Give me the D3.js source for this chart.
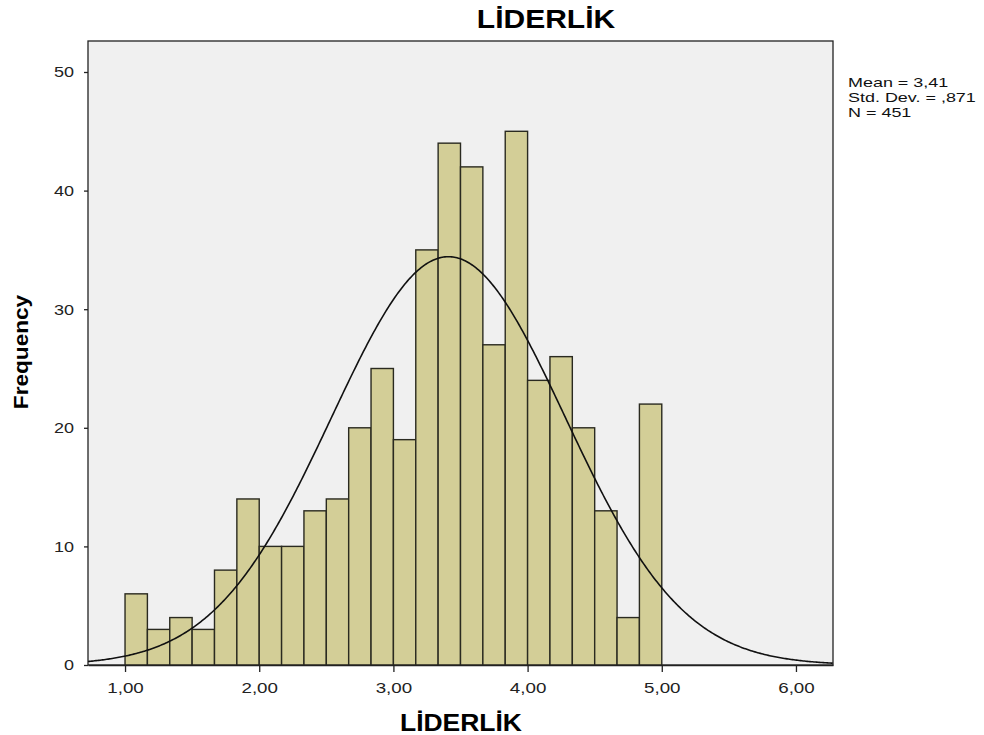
<!DOCTYPE html>
<html>
<head>
<meta charset="utf-8">
<script src="https://cdn.jsdelivr.net/npm/d3@7"></script>
<style>
  body { margin: 0; background: #fff; }
  text { font-family: "Liberation Sans", Arial, sans-serif; }
</style>
</head>
<body>
<div id="chart"></div>
<script>
// histogram bins: 24 bins of width 1/6 from 1.00 to 5.00
const binStart = 1;
const binWidth = 1 / 6;
const counts = [6, 3, 4, 3, 8, 14, 10, 10, 13, 14, 20, 25, 19, 35, 44, 42, 27, 45, 24, 26, 20, 13, 4, 22];
const xTicks = [1, 2, 3, 4, 5, 6];
const yTicks = [0, 10, 20, 30, 40, 50];
const statLines = ["Mean = 3,41", "Std. Dev. = ,871", "N = 451"];
const mean = 3.41, sd = 0.871, n = 451;

const width = 984, height = 735;
const margin = { left: 88, right: 151, top: 41, bottom: 70 };

// the reference text is a bit wider than the font, so stretch it sideways
function stretch(sel, factor) {
    sel.each(function() {
        const len = this.getComputedTextLength();
        d3.select(this).attr('textLength', len * factor).attr('lengthAdjust', 'spacingAndGlyphs');
    });
}

const svg = d3.select('#chart').append('svg')
    .attr('width', width)
    .attr('height', height);

const x = d3.scaleLinear()
    .domain([0.724, 6.276])
    .range([margin.left, width - margin.right]);

const y = d3.scaleLinear()
    .domain([0, 50])
    .range([height - margin.bottom, 72]);

const plotTop = margin.top, plotBottom = height - margin.bottom;

// plot background
svg.append('rect')
    .attr('x', margin.left)
    .attr('y', plotTop)
    .attr('width', width - margin.right - margin.left)
    .attr('height', plotBottom - plotTop)
    .attr('fill', '#f0f0f0')
    .attr('stroke', '#222')
    .attr('stroke-width', 1.3);

// bars
const bins = counts.map((c, i) => ({ x0: binStart + i * binWidth, x1: binStart + (i + 1) * binWidth, count: c }));
svg.selectAll('rect.bar')
    .data(bins)
    .enter()
    .append('rect')
    .attr('class', 'bar')
    .attr('x', d => x(d.x0))
    .attr('y', d => y(d.count))
    .attr('width', d => x(d.x1) - x(d.x0))
    .attr('height', d => y(0) - y(d.count))
    .attr('fill', '#d3ce97')
    .attr('stroke', '#2a2a20')
    .attr('stroke-width', 1.4);

// normal curve
const xs = d3.range(0.724, 6.2761, 0.01);
const pdf = v => n * binWidth * Math.exp(-0.5 * ((v - mean) / sd) ** 2) / (sd * Math.sqrt(2 * Math.PI));
svg.append('path')
    .datum(xs)
    .attr('d', d3.line().x(d => x(d)).y(d => y(pdf(d))))
    .attr('fill', 'none')
    .attr('stroke', '#111')
    .attr('stroke-width', 1.6);

// axes
const xAxis = svg.append('g')
    .attr('transform', `translate(0,${plotBottom})`)
    .call(d3.axisBottom(x).tickValues(xTicks).tickSize(7).tickSizeOuter(0)
        .tickFormat(d => d3.format('.2f')(d).replace('.', ',')));
xAxis.select('.domain').attr('stroke', '#222').attr('stroke-width', 1.3);
xAxis.selectAll('line').attr('stroke', '#222').attr('stroke-width', 1.3);
xAxis.selectAll('text').attr('font-size', 15).attr('fill', '#222')
    .attr('y', 28).attr('dy', 0).call(stretch, 1.25);

const yAxis = svg.append('g')
    .attr('transform', `translate(${margin.left},0)`)
    .call(d3.axisLeft(y).tickValues(yTicks).tickSize(4).tickFormat(d3.format('d')));
yAxis.select('.domain').remove();
yAxis.selectAll('line').attr('stroke', '#222').attr('stroke-width', 1.3);
yAxis.selectAll('text').attr('font-size', 15).attr('fill', '#222').attr('x', -14)
    .call(stretch, 1.2);

// titles
svg.append('text')
    .attr('x', 546).attr('y', 28)
    .attr('text-anchor', 'middle')
    .attr('font-size', 25).attr('font-weight', 'bold')
    .text('LİDERLİK')
    .call(stretch, 1.2);

svg.append('text')
    .attr('x', 461).attr('y', 731)
    .attr('text-anchor', 'middle')
    .attr('font-size', 23).attr('font-weight', 'bold')
    .text('LİDERLİK')
    .call(stretch, 1.15);

svg.append('text')
    .attr('transform', 'translate(28,352) rotate(-90)')
    .attr('text-anchor', 'middle')
    .attr('font-size', 20).attr('font-weight', 'bold')
    .text('Frequency')
    .call(stretch, 1.13);

// stats box
svg.selectAll('text.stat')
    .data(statLines)
    .enter()
    .append('text')
    .attr('class', 'stat')
    .attr('x', 848)
    .attr('y', (d, i) => 87 + i * 15)
    .attr('font-size', 13)
    .attr('fill', '#111')
    .text(d => d)
    .call(stretch, 1.38);
</script>
</body>
</html>
